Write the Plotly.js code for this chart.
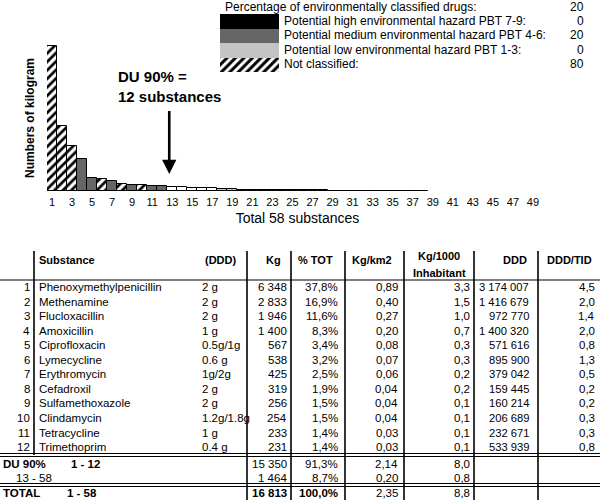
<!DOCTYPE html>
<html><head><meta charset="utf-8">
<script src="https://cdn.plot.ly/plotly-3.0.1.min.js"></script>
<style>html,body{margin:0;padding:0;background:#fff}#chart{width:600px;height:500px}</style>
</head><body><div id="chart"></div>
<script>
// ---------------- chart data ----------------
const rank = [];
for (let i = 1; i <= 38; i++) rank.push(i);
const kgByRank = [6348, 2833, 1946, 1400, 567, 538, 425, 319, 256, 254, 233, 231,
  190, 175, 145, 135, 120, 95, 85,
  55, 48, 42, 38, 35, 32,
  28, 26, 24, 22, 20, 18, 16, 14, 12, 10, 9, 8, 7];
// N = not classified (hatched), M = medium hazard, L = low hazard, W = plain
const hazardClass = ['N','N','N','M','M','N','M','N','M','N','M','M',
  'W','W','W','W','W','L','L',
  'W','L','L','L','L','L',
  'W','W','W','W','W','W','W','W','W','W','W','W','W'];
const xTickLabels = [];
for (let i = 1; i <= 49; i += 2) xTickLabels.push(String(i));
const yTitle = 'Numbers of kilogram';
const xTitle = 'Total 58 substances';
const calloutText = 'DU 90% =<br>12 substances';
const calloutRank = 12.7;

// ---------------- legend data ----------------
const legendTitle = 'Percentage of environmentally classified drugs:';
const legendTitleValue = '20';
const legendLabels = ['Potential high environmental hazard PBT 7-9:',
  'Potential medium environmental hazard PBT 4-6:',
  'Potential low environmental hazard PBT 1-3:',
  'Not classified:'];
const legendValues = ['0', '20', '0', '80'];
const legendClasses = ['H', 'M', 'L', 'N'];

// ---------------- table data ----------------
const substances = ['Phenoxymethylpenicillin','Methenamine','Flucloxacillin','Amoxicillin','Ciprofloxacin','Lymecycline','Erythromycin','Cefadroxil','Sulfamethoxazole','Clindamycin','Tetracycline','Trimethoprim'];
const dddDose = ['2 g','2 g','2 g','1 g','0.5g/1g','0.6 g','1g/2g','2 g','2 g','1.2g/1.8g','1 g','0.4 g'];
const kg = [6348, 2833, 1946, 1400, 567, 538, 425, 319, 256, 254, 233, 231];
const pctTot = [37.8, 16.9, 11.6, 8.3, 3.4, 3.2, 2.5, 1.9, 1.5, 1.5, 1.4, 1.4];
const kgPerKm2 = [0.89, 0.40, 0.27, 0.20, 0.08, 0.07, 0.06, 0.04, 0.04, 0.04, 0.03, 0.03];
const kgPer1000 = [3.3, 1.5, 1.0, 0.7, 0.3, 0.3, 0.2, 0.2, 0.1, 0.1, 0.1, 0.1];
const dddTotal = [3174007, 1416679, 972770, 1400320, 571616, 895900, 379042, 159445, 160214, 206689, 232671, 533939];
const dddTid = [4.5, 2.0, 1.4, 2.0, 0.8, 1.3, 0.5, 0.2, 0.2, 0.3, 0.3, 0.8];
const headers = ['Substance','(DDD)','Kg','% TOT','Kg/km2','Kg/1000','Inhabitant','DDD','DDD/TID'];
const summaryLabels = ['DU 90%', '', 'TOTAL'];
const summaryRanges = ['1 - 12', '13 - 58', '1 - 58'];
const summaryKg = [15350, 1464, 16813];
const summaryPct = [91.3, 8.7, 100.0];
const summaryKm2 = [2.14, 0.20, 2.35];
const summary1000 = [8.0, 0.8, 8.8];
const summaryBold = [true, false, true];

// ---------------- helpers ----------------
const FONT = 'Liberation Sans, Arial, Helvetica, sans-serif';
const W = 600, H = 500;
const px = v => v / W;
const py = v => 1 - v / H;
const fmtInt = n => String(n).replace(/\B(?=(\d{3})+(?!\d))/g, ' ');
const fmtDec = (n, d) => n.toFixed(d).replace('.', ',');
const colorOf = {H: '#000000', M: '#666666', L: '#c4c4c4', N: '#ffffff', W: '#ffffff'};
const HATCH = {shape: '/', fgcolor: '#000000', bgcolor: '#ffffff', size: 6, solidity: 0.45, fillmode: 'replace'};

// chart geometry
const plotLeft = 47, plotRight = 548, plotTop = 45, plotBottom = 191;
const yMax = 6378;
const yFromPx = p => (plotBottom - p) / (plotBottom - plotTop) * yMax;

// one bar trace per hazard class
const classOrder = ['N', 'M', 'L', 'W'];
const barTraces = classOrder.map(c => {
  const xs = [], ys = [];
  rank.forEach((r, i) => { if (hazardClass[i] === c) { xs.push(r); ys.push(kgByRank[i]); } });
  const marker = {color: colorOf[c], line: {color: '#000', width: 1}};
  if (c === 'N') marker.pattern = HATCH;
  return {type: 'bar', x: xs, y: ys, width: 1, marker: marker, hoverinfo: 'skip', showlegend: false};
});

// legend swatches, one trace per row
const swatchTraces = legendClasses.map((c, i) => {
  const marker = {color: colorOf[c], line: {width: 0}};
  if (c === 'N') marker.pattern = Object.assign({}, HATCH, {size: 6, solidity: 0.5});
  return {type: 'bar', orientation: 'h', xaxis: 'x2', yaxis: 'y2', x: [1], y: [i], width: 1,
    marker: marker, hoverinfo: 'skip', showlegend: false};
});

const ann = [];
const shapes = [];
const txt = (text, x, y, anchor, opts = {}) => ann.push(Object.assign({
  text: text, x: px(x), y: py(y), xref: 'paper', yref: 'paper', xanchor: anchor, yanchor: 'middle',
  showarrow: false, font: {family: FONT, size: opts.size || 11.5, color: '#000', weight: opts.bold ? 'bold' : 'normal'}
}, opts.extra || {}));

// callout arrow
ann.push({
  text: calloutText, x: calloutRank, y: yFromPx(174), xref: 'x', yref: 'y',
  ax: calloutRank, ay: yFromPx(87), axref: 'x', ayref: 'y', align: 'left',
  showarrow: true, arrowhead: 2, arrowsize: 1.1, arrowwidth: 2.6, arrowcolor: '#000', startstandoff: 4,
  font: {family: FONT, size: 15, color: '#000', weight: 'bold'}
});

// legend texts
const LG = {titleX: 223, titleY: 7, labelX: 282, valueRight: 586, rowY: [21, 35, 50, 64]};
txt(legendTitle, LG.titleX, LG.titleY, 'left', {size: 12});
txt(legendTitleValue, LG.valueRight, LG.titleY, 'right', {size: 12});
legendLabels.forEach((l, i) => {
  txt(l, LG.labelX, LG.rowY[i], 'left', {size: 12});
  txt(legendValues[i], LG.valueRight, LG.rowY[i], 'right', {size: 12});
});

// table layout
const T = {
  lines: [34, 247, 291, 345, 404, 474, 538], lineTop: 251,
  headY: 260, head1Y: 256, head2Y: 273, headLine: 280,
  row1: 287, rowH: 14.55, dbl1: 455, dbl2: 485, sumY: [463.5, 477.5, 493],
  numR: 32, nameL: 37, doseL: 200, kgR: 289, pctR: 340, km2R: 400, k1000R: 472, dddR: 531, tidR: 597
};
// headers
txt(headers[0], 37, T.headY, 'left', {bold: true, size: 11});
txt(headers[1], 203, T.headY, 'left', {bold: true, size: 11});
txt(headers[2], 273, T.headY, 'center', {bold: true, size: 11});
txt(headers[3], 316, T.headY, 'center', {bold: true, size: 11});
txt(headers[4], 372, T.headY, 'center', {bold: true, size: 11});
txt(headers[5], 439, T.head1Y, 'center', {bold: true, size: 11});
txt(headers[6], 440, T.head2Y, 'center', {bold: true, size: 11});
txt(headers[7], 515, T.headY, 'center', {bold: true, size: 11});
txt(headers[8], 569, T.headY, 'center', {bold: true, size: 11});
// body rows
substances.forEach((s, i) => {
  const y = T.row1 + i * T.rowH;
  txt(String(i + 1), T.numR, y, 'right');
  txt(s, T.nameL, y, 'left');
  txt(dddDose[i], T.doseL, y, 'left');
  txt(fmtInt(kg[i]), T.kgR, y, 'right');
  txt(fmtDec(pctTot[i], 1) + '%', T.pctR, y, 'right');
  txt(fmtDec(kgPerKm2[i], 2), T.km2R, y, 'right');
  txt(fmtDec(kgPer1000[i], 1), T.k1000R, y, 'right');
  txt(fmtInt(dddTotal[i]), T.dddR, y, 'right', {size: 11.2});
  txt(fmtDec(dddTid[i], 1), T.tidR, y, 'right');
});
// summary rows
const sumLabelX = [[1, 69], [null, 14], [1, 65]];
summaryRanges.forEach((r, i) => {
  const y = T.sumY[i];
  if (summaryLabels[i]) txt(summaryLabels[i], sumLabelX[i][0], y, 'left', {bold: true});
  txt(r, sumLabelX[i][1], y, 'left', {bold: summaryBold[i]});
  const boldVals = i === 2;
  txt(fmtInt(summaryKg[i]), T.kgR, y, 'right', {bold: boldVals});
  txt(fmtDec(summaryPct[i], 1) + '%', T.pctR, y, 'right', {bold: boldVals});
  txt(fmtDec(summaryKm2[i], 2), T.km2R, y, 'right');
  txt(fmtDec(summary1000[i], 1), T.k1000R, y, 'right');
});
// table lines
const line = (x0, y0, x1, y1, w) => shapes.push({type: 'line', xref: 'paper', yref: 'paper',
  x0: px(x0), y0: py(y0), x1: px(x1), y1: py(y1), line: {color: '#000', width: w}});
T.lines.forEach((x, i) => line(x, T.lineTop, x, i === 0 ? T.dbl1 : H, 1.6));
line(0, T.headLine, W, T.headLine, 1.2);
[T.dbl1, T.dbl2].forEach(y => { line(0, y - 1.5, W, y - 1.5, 1); line(0, y + 1.5, W, y + 1.5, 1); });

// ticks at bar boundaries
const boundaryTicks = [];
for (let i = 0; i <= 50; i++) boundaryTicks.push(i + 0.5);

const layout = {
  width: W, height: H, margin: {l: 0, r: 0, t: 0, b: 0, pad: 0},
  paper_bgcolor: '#fff', plot_bgcolor: 'rgba(0,0,0,0)', bargap: 0, barmode: 'overlay',
  font: {family: FONT, color: '#000'},
  showlegend: false,
  xaxis: {
    domain: [px(plotLeft), px(plotRight)], range: [0.5, 50.5], anchor: 'y',
    tickmode: 'array', tickvals: xTickLabels.map(Number), ticktext: xTickLabels,
    ticks: 'outside', ticklen: 1, tickcolor: 'rgba(0,0,0,0)', showline: false, showgrid: false, zeroline: false,
    tickfont: {family: FONT, size: 11, color: '#000'},
    title: {text: xTitle, font: {family: FONT, size: 14, color: '#000'}, standoff: 5}
  },
  xaxis3: {
    overlaying: 'x', anchor: 'y', range: [0.5, 50.5],
    tickmode: 'array', tickvals: boundaryTicks, ticks: 'outside', ticklen: 4, tickcolor: '#000', tickwidth: 1,
    showticklabels: false, showline: true, linecolor: '#000', linewidth: 1.5, showgrid: false, zeroline: false
  },
  yaxis: {
    domain: [py(plotBottom), py(plotTop)], range: [0, yMax], anchor: 'x',
    showline: false, showgrid: false, zeroline: false, showticklabels: false, ticks: '',
    title: {text: yTitle, font: {family: FONT, size: 12, color: '#000', weight: 'bold'}, standoff: 8}
  },
  xaxis2: {domain: [px(220), px(279)], range: [0, 1], anchor: 'y2', visible: false, fixedrange: true},
  yaxis2: {domain: [py(72), py(14)], range: [3.5, -0.5], anchor: 'x2', visible: false, fixedrange: true},
  annotations: ann, shapes: shapes
};

Plotly.newPlot('chart', barTraces.concat(swatchTraces), layout, {displayModeBar: false});
</script></body></html>
